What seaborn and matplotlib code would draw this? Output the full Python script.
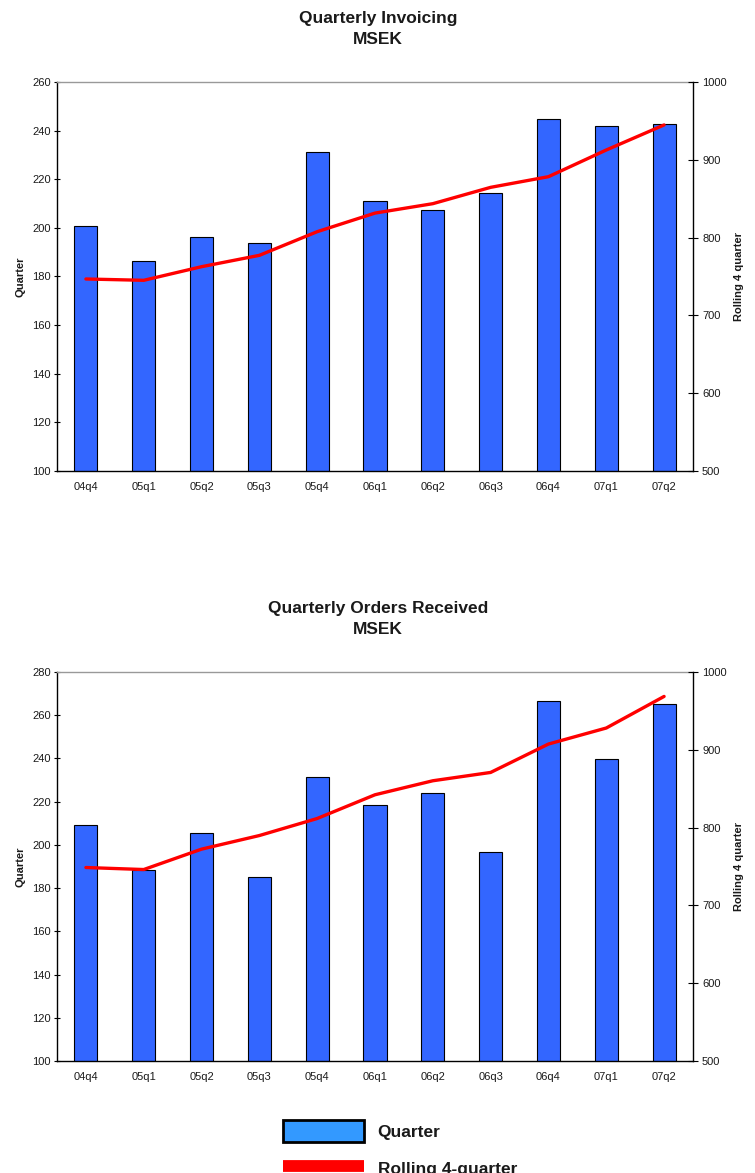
import numpy as np
import pandas as pd
import matplotlib
matplotlib.use("Agg")
import matplotlib.pyplot as plt
import seaborn as sns
from matplotlib.patches import Patch
from matplotlib.lines import Line2D
from matplotlib.ticker import FixedLocator

sns.set_theme(style="white")
plt.rcParams['font.family'] = ['Liberation Sans', 'DejaVu Sans']

quarters = ["04q4", "05q1", "05q2", "05q3", "05q4", "06q1", "06q2", "06q3", "06q4", "07q1", "07q2"]

invoicing_quarter = [200.6, 186.4, 196.3, 193.7, 231.3, 210.9, 207.2, 214.5, 244.9, 242.0, 242.9]
invoicing_rolling = [746.8, 745.1, 762.6, 777.2, 807.6, 831.5, 843.6, 864.6, 878.3, 912.6, 944.8]

orders_quarter = [209.4, 188.5, 205.7, 185.2, 231.4, 218.4, 224.1, 196.5, 266.7, 239.6, 265.4]
orders_rolling = [748.7, 746.1, 772.3, 789.8, 811.7, 842.2, 860.2, 870.9, 907.4, 928.0, 968.6]

charts = [
    ("Quarterly Invoicing", invoicing_quarter, invoicing_rolling, (100, 260), list(range(100, 261, 20))),
    ("Quarterly Orders Received", orders_quarter, orders_rolling, (100, 280), list(range(100, 281, 20))),
]

BAR_COLOR = "#3366FF"
LEGEND_BAR = "#3399FF"
LINE_COLOR = "#FF0000"
TXT = "#1a1a1a"

W, H = 755, 1173
fig = plt.figure(figsize=(W / 100, H / 100), dpi=100)
fig.patch.set_facecolor("white")

ax_top_px = [82, 672]
title_px = [(18, 39), (608, 629)]

for i, (title, qvals, rvals, ylim, yticks) in enumerate(charts):
    top = ax_top_px[i]
    ax = fig.add_axes([57 / W, 1 - (top + 389) / H, 636 / W, 389 / H])
    df = pd.DataFrame({"q": quarters, "v": qvals})
    sns.barplot(data=df, x="q", y="v", ax=ax, color=BAR_COLOR, width=0.4,
                edgecolor="black", linewidth=0.8, saturation=1)
    for p in ax.patches:
        p.set_facecolor(BAR_COLOR)
    ax.set_xlim(-0.5, len(quarters) - 0.5)
    ax.set_ylim(*ylim)
    ax.set_yticks(yticks)
    ax.set_xlabel("")
    ax.set_ylabel("Quarter", fontsize=8, fontweight="bold", color=TXT, labelpad=5)
    ax.tick_params(axis="x", which="major", length=0, labelsize=8, colors=TXT, pad=8)
    ax.xaxis.set_minor_locator(FixedLocator(np.arange(0.5, len(quarters) - 1, 1.0)))
    ax.tick_params(axis="x", which="minor", direction="inout", length=7, width=0.8, color="black")
    ax.tick_params(axis="y", direction="inout", length=5, width=0.8, labelsize=8,
                   colors=TXT, left=True, pad=2)
    ax.tick_params(axis="y", color="black")
    for s in ["left", "bottom"]:
        ax.spines[s].set_color("black")
        ax.spines[s].set_linewidth(1.0)
    ax.spines["top"].set_color("#999999")
    ax.spines["top"].set_linewidth(1.0)
    ax.spines["right"].set_visible(False)

    ax2 = ax.twinx()
    ldf = pd.DataFrame({"x": np.arange(len(quarters)), "r": rvals})
    sns.lineplot(data=ldf, x="x", y="r", ax=ax2, color=LINE_COLOR, linewidth=2.4)
    ax2.set_ylim(500, 1000)
    ax2.set_yticks(range(500, 1001, 100))
    ax2.set_xlim(-0.5, len(quarters) - 0.5)
    ax2.set_xlabel("")
    ax2.set_ylabel("Rolling 4 quarter", fontsize=8, fontweight="bold", color=TXT, labelpad=5)
    ax2.tick_params(axis="y", direction="inout", length=7, width=0.8, labelsize=8,
                    colors=TXT, right=True, pad=3)
    ax2.tick_params(axis="y", color="black")
    ax2.spines["right"].set_visible(True)
    ax2.spines["right"].set_color("black")
    ax2.spines["right"].set_linewidth(1.0)
    for s in ["left", "top", "bottom"]:
        ax2.spines[s].set_visible(False)

    t1, t2 = title_px[i]
    fig.text(378 / W, 1 - t1 / H, title, ha="center", va="center",
             fontsize=12.5, fontweight="bold", color=TXT)
    fig.text(378 / W, 1 - t2 / H, "MSEK", ha="center", va="center",
             fontsize=12.5, fontweight="bold", color=TXT)

handles = [
    Patch(facecolor=LEGEND_BAR, edgecolor="black", linewidth=2.0),
    Line2D([0], [0], color=LINE_COLOR, linewidth=8.5, solid_capstyle="butt"),
]
leg = fig.legend(handles, ["Quarter", "Rolling 4-quarter"], loc="center left",
                 bbox_to_anchor=(283 / W, 1 - 1150 / H), frameon=False,
                 prop={"weight": "bold", "size": 12.5}, handlelength=4.65,
                 handleheight=1.6, handletextpad=0.8, labelspacing=0.88,
                 borderpad=0, borderaxespad=0)
for t in leg.get_texts():
    t.set_color(TXT)

fig.savefig("out.png", dpi=100, facecolor="white")
